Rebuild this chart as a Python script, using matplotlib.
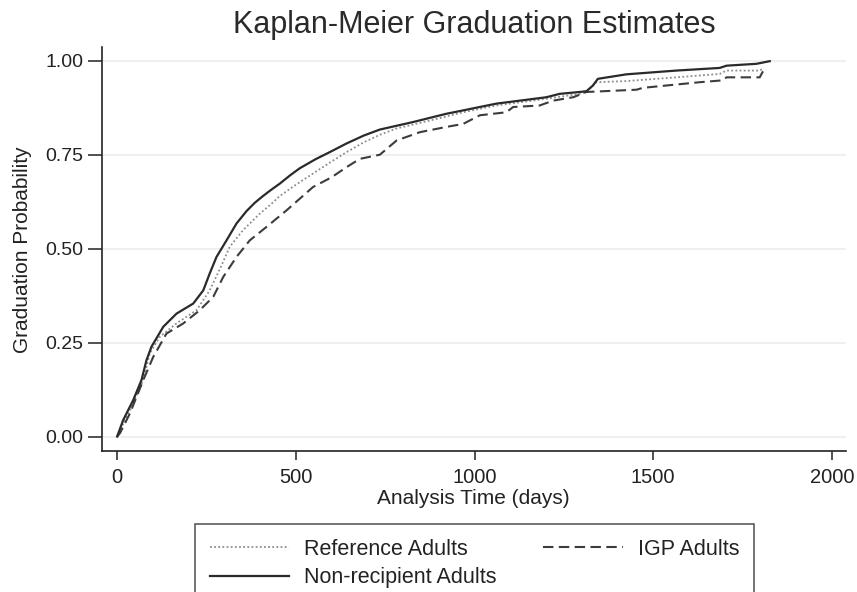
import matplotlib
matplotlib.use('Agg')
import matplotlib.pyplot as plt

plt.rcParams['font.family'] = ['Liberation Sans', 'DejaVu Sans']

########################  DATA  ###############################################

refDays = [0, 8, 36, 73, 91, 119, 166, 222, 259, 290, 315, 352, 399, 430, 455,
           500, 548, 600, 642, 690, 735, 782, 875, 968, 1061, 1201, 1294, 1313,
           1341, 1425, 1565, 1686, 1705, 1797, 1810]
refProb = [0, 0.017, 0.070, 0.150, 0.221, 0.265, 0.301, 0.336, 0.389, 0.451,
           0.505, 0.549, 0.593, 0.618, 0.640, 0.670, 0.700, 0.732, 0.757, 0.783,
           0.803, 0.820, 0.841, 0.863, 0.881, 0.899, 0.912, 0.917, 0.943, 0.946,
           0.956, 0.965, 0.974, 0.974, 0.980]

igpDays = [0, 8, 36, 73, 101, 138, 185, 231, 269, 297, 334, 371, 418, 474, 548,
           600, 642, 679, 735, 782, 847, 921, 968, 1015, 1089, 1108, 1182, 1220,
           1276, 1313, 1453, 1471, 1630, 1695, 1705, 1798, 1807]
igpProb = [0, 0.009, 0.062, 0.150, 0.212, 0.274, 0.301, 0.336, 0.372, 0.425,
           0.478, 0.522, 0.558, 0.602, 0.664, 0.690, 0.717, 0.739, 0.750, 0.788,
           0.810, 0.824, 0.832, 0.855, 0.863, 0.877, 0.881, 0.894, 0.903, 0.917,
           0.923, 0.928, 0.943, 0.948, 0.956, 0.956, 0.972]

nonDays = [0, 17, 45, 68, 82, 96, 129, 166, 213, 241, 259, 278, 306, 334, 362,
           385, 408, 430, 455, 485, 511, 555, 595, 642, 690, 735, 828, 921, 968,
           1061, 1201, 1238, 1294, 1313, 1331, 1345, 1425, 1565, 1686, 1705,
           1789, 1826]
nonProb = [0, 0.044, 0.097, 0.150, 0.203, 0.239, 0.292, 0.327, 0.354, 0.389,
           0.434, 0.478, 0.522, 0.567, 0.600, 0.622, 0.640, 0.656, 0.673, 0.696,
           0.714, 0.738, 0.757, 0.780, 0.801, 0.817, 0.837, 0.859, 0.868, 0.886,
           0.903, 0.912, 0.917, 0.919, 0.934, 0.952, 0.964, 0.974, 0.981, 0.987,
           0.992, 0.999]

xTicks = [0, 500, 1000, 1500, 2000]
yTicks = [0, 0.25, 0.5, 0.75, 1.0]
yTickLabels = ['0.00', '0.25', '0.50', '0.75', '1.00']

textColor = '#222222'

#############################  FIGURE  ########################################

fig = plt.figure(figsize=(8.57, 5.92), dpi=100)
ax = fig.add_axes([0.1196, 0.2382, 0.867, 0.6824])

ax.set_xlim(-41, 2038)
ax.set_ylim(-0.0385, 1.0367)

for y in yTicks:
    ax.axhline(y, color='#ececec', lw=1.2, zorder=0)

lRef, = ax.plot(refDays, refProb, color='#8c8c8c', lw=1.3,
                linestyle=(0, (1, 1.3)))
lIgp, = ax.plot(igpDays, igpProb, color='#3c3c3c', lw=1.5,
                linestyle=(0, (5, 2.6)))
lNon, = ax.plot(nonDays, nonProb, color='#2a2a2a', lw=1.6)

for side in ['top', 'right']:
    ax.spines[side].set_visible(False)
for side in ['left', 'bottom']:
    ax.spines[side].set_color('#222222')
    ax.spines[side].set_linewidth(1.2)

ax.set_xticks(xTicks)
ax.set_yticks(yTicks)
ax.set_yticklabels(yTickLabels)
ax.tick_params(axis='x', length=6.5, width=1.1, pad=6, labelsize=14.5,
               colors='#222222', labelcolor=textColor)
ax.tick_params(axis='y', length=10, width=1.1, pad=4, labelsize=14,
               colors='#222222', labelcolor=textColor)

fig.text(474 / 857, 1 - 25 / 592, 'Kaplan-Meier Graduation Estimates',
         ha='center', va='center', fontsize=22, color='#2a2a2a')
fig.text(473 / 857, 1 - 498 / 592, 'Analysis Time (days)',
         ha='center', va='center', fontsize=15, color=textColor)
fig.text(23 / 857, 1 - 250 / 592, 'Graduation Probability', rotation=90,
         ha='center', va='center', fontsize=15, color=textColor)

leg = fig.legend([lRef, lNon, lIgp],
                 ['Reference Adults', 'Non-recipient Adults', 'IGP Adults'],
                 loc='upper left', ncol=2, mode='expand',
                 bbox_to_anchor=(195 / 857, 1 - 524 / 592, 559 / 857, 0),
                 fontsize=15.5, handlelength=3.7, handletextpad=0.7,
                 borderpad=0.68, labelspacing=0.35, borderaxespad=0,
                 fancybox=False, frameon=True)
leg.get_frame().set_edgecolor('#333333')
leg.get_frame().set_linewidth(1.2)
for t in leg.get_texts():
    t.set_color(textColor)

plt.savefig('out.png', dpi=100)
plt.close()
